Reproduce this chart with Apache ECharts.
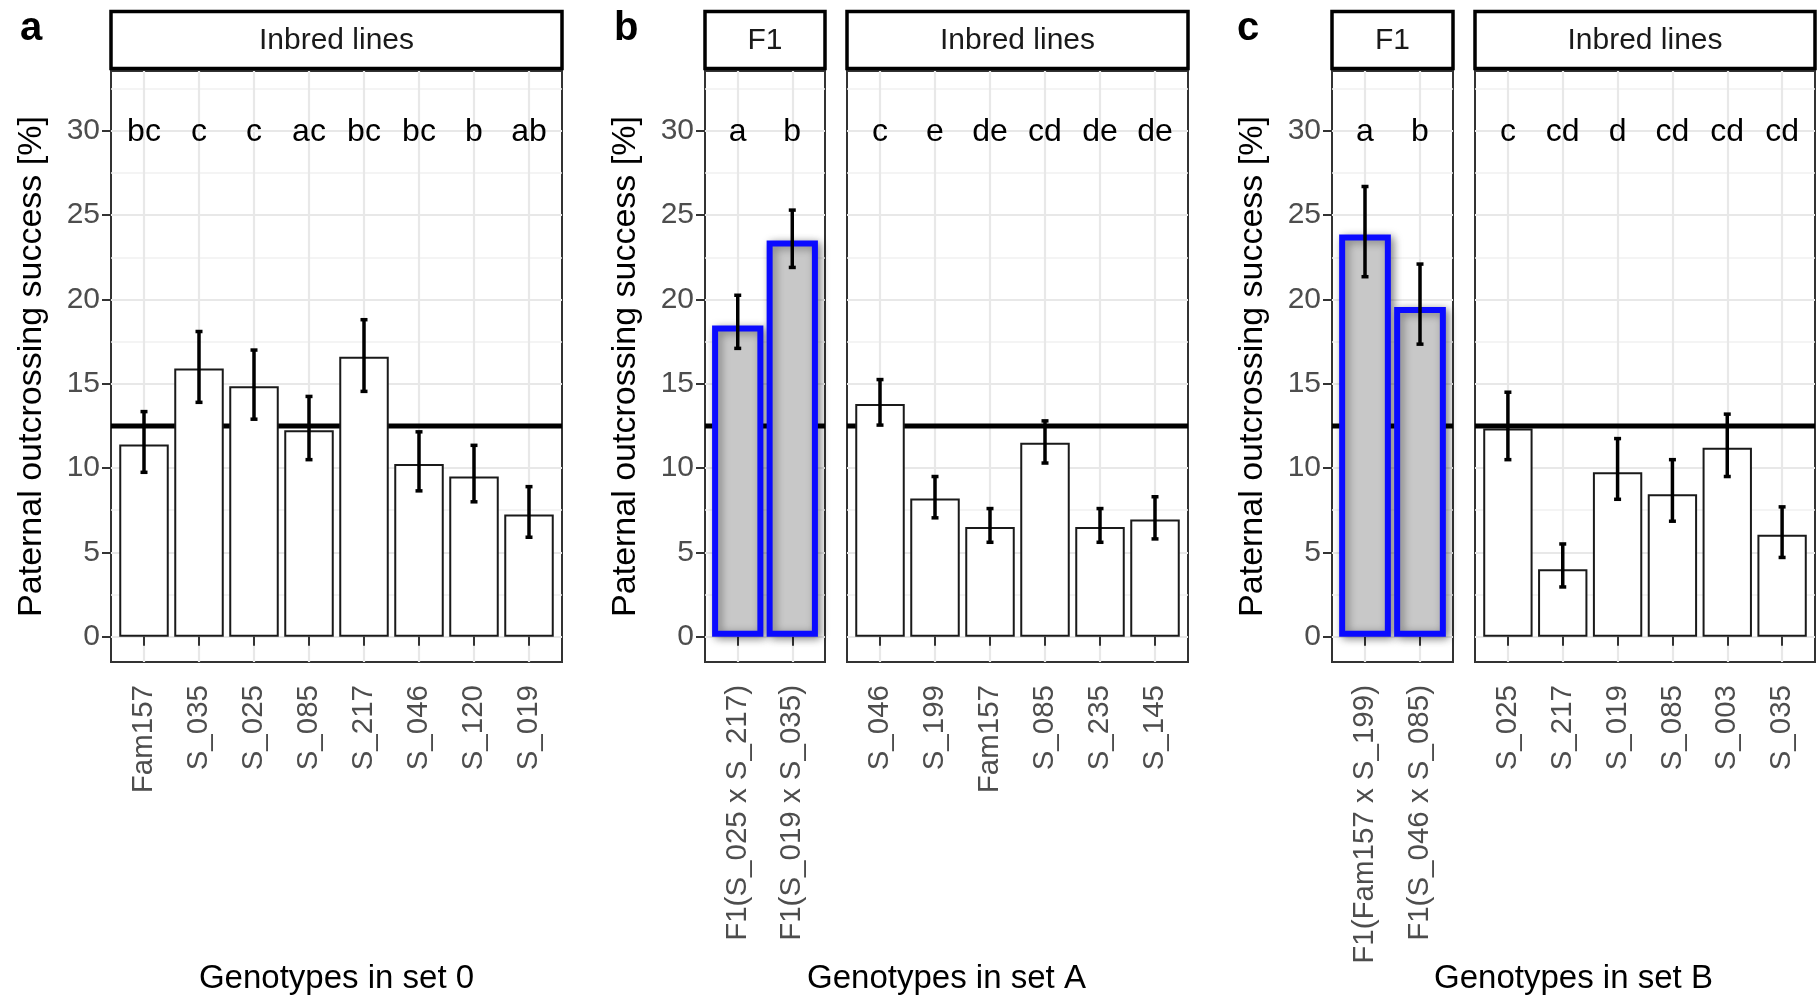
<!DOCTYPE html>
<html>
<head>
<meta charset="utf-8">
<script src="https://cdn.jsdelivr.net/npm/echarts@6/dist/echarts.min.js"></script>
<style>
  html, body { margin: 0; padding: 0; background: #ffffff; }
  #chart { width: 1818px; height: 1002px; }
</style>
</head>
<body>
<div id="chart"></div>
<script>
// ---- Set 0: inbred lines ----
const set0Inbred        = ['Fam157', 'S_035', 'S_025', 'S_085', 'S_217', 'S_046', 'S_120', 'S_019'];
const set0InbredMean    = [11.4, 15.9, 14.85, 12.25, 16.6, 10.25, 9.5, 7.25];
const set0InbredLow     = [9.75, 13.9, 12.9, 10.5, 14.55, 8.65, 8.0, 5.9];
const set0InbredHigh    = [13.35, 18.1, 17.0, 14.25, 18.8, 12.15, 11.35, 8.9];
const set0InbredLetters = ['bc', 'c', 'c', 'ac', 'bc', 'bc', 'b', 'ab'];

// ---- Set A ----
const setAF1            = ['F1(S_025 x S_217)', 'F1(S_019 x S_035)'];
const setAF1Mean        = [18.45, 23.5];
const setAF1Low         = [17.1, 21.9];
const setAF1High        = [20.25, 25.3];
const setAF1Letters     = ['a', 'b'];

const setAInbred        = ['S_046', 'S_199', 'Fam157', 'S_085', 'S_235', 'S_145'];
const setAInbredMean    = [13.8, 8.2, 6.5, 11.5, 6.5, 6.95];
const setAInbredLow     = [12.55, 7.05, 5.6, 10.3, 5.6, 5.8];
const setAInbredHigh    = [15.25, 9.5, 7.6, 12.8, 7.6, 8.3];
const setAInbredLetters = ['c', 'e', 'de', 'cd', 'de', 'de'];

// ---- Set B ----
const setBF1            = ['F1(Fam157 x S_199)', 'F1(S_046 x S_085)'];
const setBF1Mean        = [23.85, 19.55];
const setBF1Low         = [21.35, 17.35];
const setBF1High        = [26.7, 22.1];
const setBF1Letters     = ['a', 'b'];

const setBInbred        = ['S_025', 'S_217', 'S_019', 'S_085', 'S_003', 'S_035'];
const setBInbredMean    = [12.35, 4.0, 9.75, 8.45, 11.2, 6.05];
const setBInbredLow     = [10.5, 2.95, 8.15, 6.85, 9.5, 4.7];
const setBInbredHigh    = [14.5, 5.5, 11.75, 10.5, 13.2, 7.7];
const setBInbredLetters = ['c', 'cd', 'd', 'cd', 'cd', 'cd'];

// ---- Axis ticks and reference values ----
const yTicks      = [0, 5, 10, 15, 20, 25, 30];
const yMinorTicks = [2.5, 7.5, 12.5, 17.5, 22.5, 27.5, 32.5];
const EXPECTED_SUCCESS = 12.5;   // horizontal reference line
const LETTER_Y = 30;             // height of the significance letters
const Y_MIN = -1.5, Y_MAX = 33.55;

const yTitle = 'Paternal outcrossing success [%]';
const setTitles = ['Genotypes in set 0', 'Genotypes in set A', 'Genotypes in set B'];
const panelTags = ['a', 'b', 'c'];

// ---- Layout of the facets (pixels) ----
const PANEL_TOP = 71, PANEL_H = 591;
const STRIP_TOP = 11.5, STRIP_H = 57;
const FONT = '"Liberation Sans", Arial, Helvetica, sans-serif';

const facets = [
  { left: 111,  width: 451, kind: 'inbred', strip: 'Inbred lines', yLabels: true,
    cats: set0Inbred, mean: set0InbredMean, low: set0InbredLow, high: set0InbredHigh, letters: set0InbredLetters },
  { left: 705,  width: 120, kind: 'f1', strip: 'F1', yLabels: true,
    cats: setAF1, mean: setAF1Mean, low: setAF1Low, high: setAF1High, letters: setAF1Letters },
  { left: 847,  width: 341, kind: 'inbred', strip: 'Inbred lines', yLabels: false,
    cats: setAInbred, mean: setAInbredMean, low: setAInbredLow, high: setAInbredHigh, letters: setAInbredLetters },
  { left: 1332, width: 121, kind: 'f1', strip: 'F1', yLabels: true,
    cats: setBF1, mean: setBF1Mean, low: setBF1Low, high: setBF1High, letters: setBF1Letters },
  { left: 1475, width: 340, kind: 'inbred', strip: 'Inbred lines', yLabels: false,
    cats: setBInbred, mean: setBInbredMean, low: setBInbredLow, high: setBInbredHigh, letters: setBInbredLetters }
];

// x-ranges for the three figure parts (used to centre the axis titles)
const parts = [
  { from: 111, to: 562,  tagX: 20 },
  { from: 705, to: 1188, tagX: 614 },
  { from: 1332, to: 1815, tagX: 1237 }
];

const grid = [], xAxis = [], yAxis = [], series = [], graphic = [];

facets.forEach(function (f, gi) {
  const n = f.cats.length;
  const xMin = 0.4, xMax = n + 0.6;
  const positions = f.cats.map(function (_, i) { return i + 1; });

  grid.push({
    left: f.left, top: PANEL_TOP, width: f.width, height: PANEL_H,
    show: true, borderColor: '#333333', borderWidth: 2, backgroundColor: '#ffffff'
  });

  xAxis.push({
    type: 'value', gridIndex: gi, min: xMin, max: xMax,
    axisLine: { show: false },
    axisTick: { show: true, length: 9, customValues: positions,
                lineStyle: { color: '#333333', width: 2 } },
    axisLabel: {
      customValues: positions, rotate: 90, margin: 23,
      color: '#4d4d4d', fontSize: 29.5, fontFamily: FONT,
      formatter: function (v) { return f.cats[Math.round(v) - 1] || ''; }
    },
    splitLine: { show: true, lineStyle: { color: '#e8e8e8', width: 2.2 } }
  });

  // main y axis: ticks, labels, major grid
  yAxis.push({
    type: 'value', gridIndex: gi, min: Y_MIN, max: Y_MAX,
    name: f.yLabels ? yTitle : '',
    nameLocation: 'middle', nameRotate: 90, nameGap: 62,
    nameTextStyle: { color: '#000000', fontSize: 34, fontFamily: FONT },
    axisLine: { show: false },
    axisTick: { show: f.yLabels, length: 9, customValues: yTicks,
                lineStyle: { color: '#333333', width: 2 } },
    axisLabel: { show: f.yLabels, customValues: yTicks, margin: 11,
                 color: '#4d4d4d', fontSize: 30, fontFamily: FONT },
    splitLine: { show: true, lineStyle: { color: '#e8e8e8', width: 2.2 } }
  });
  const mainY = yAxis.length - 1;

  // second y axis only for the minor grid lines
  yAxis.push({
    type: 'value', gridIndex: gi, min: Y_MIN, max: Y_MAX, position: 'left',
    axisLine: { show: false },
    axisTick: { show: false, customValues: yMinorTicks },
    axisLabel: { show: false, customValues: yMinorTicks },
    splitLine: { show: true, lineStyle: { color: '#f0f0f0', width: 1.5 } }
  });

  // horizontal reference line, drawn under the bars
  series.push({
    type: 'line', xAxisIndex: gi, yAxisIndex: mainY, z: 1,
    data: [[xMin, EXPECTED_SUCCESS], [xMax, EXPECTED_SUCCESS]],
    showSymbol: false, symbol: 'none', silent: true, animation: false,
    lineStyle: { color: '#000000', width: 5 }
  });

  const isF1 = f.kind === 'f1';
  series.push({
    type: 'bar', xAxisIndex: gi, yAxisIndex: mainY, z: 2,
    barWidth: isF1 ? '94%' : '90%', animation: false,
    data: f.mean.map(function (v, i) { return [positions[i], v]; }),
    itemStyle: isF1
      ? { color: '#c8c8c8', borderColor: '#0a0aff', borderWidth: 6,
          shadowBlur: 9, shadowColor: 'rgba(0,0,0,0.4)', shadowOffsetX: 3, shadowOffsetY: 2 }
      : { color: '#ffffff', borderColor: '#1a1a1a', borderWidth: 2 }
  });

  // error bars
  series.push({
    type: 'custom', xAxisIndex: gi, yAxisIndex: mainY, z: 3, animation: false,
    data: f.low.map(function (lo, i) { return [positions[i], lo, f.high[i]]; }),
    encode: { x: 0, y: [1, 2] },
    renderItem: function (params, api) {
      const x = api.value(0);
      const lo = api.coord([x, api.value(1)]);
      const hi = api.coord([x, api.value(2)]);
      const cap = 3.5;
      const st = { stroke: '#000000', lineWidth: 3.5 };
      return {
        type: 'group',
        children: [
          { type: 'line', shape: { x1: lo[0], y1: lo[1], x2: hi[0], y2: hi[1] }, style: st },
          { type: 'line', shape: { x1: lo[0] - cap, y1: lo[1], x2: lo[0] + cap, y2: lo[1] }, style: st },
          { type: 'line', shape: { x1: hi[0] - cap, y1: hi[1], x2: hi[0] + cap, y2: hi[1] }, style: st }
        ]
      };
    }
  });

  // significance letters
  series.push({
    type: 'custom', xAxisIndex: gi, yAxisIndex: mainY, z: 4, animation: false,
    data: positions.map(function (p) { return [p, LETTER_Y]; }),
    encode: { x: 0, y: 1 },
    renderItem: function (params, api) {
      const pt = api.coord([api.value(0), api.value(1)]);
      return {
        type: 'text',
        style: {
          x: pt[0], y: pt[1] + 1, text: f.letters[params.dataIndex],
          fill: '#000000', font: '32px ' + FONT,
          textAlign: 'center', textVerticalAlign: 'middle'
        }
      };
    }
  });

  // facet strip
  graphic.push({
    type: 'rect', z: 10,
    shape: { x: f.left, y: STRIP_TOP, width: f.width, height: STRIP_H },
    style: { fill: '#ffffff', stroke: '#000000', lineWidth: 3.5 }
  });
  graphic.push({
    type: 'text', z: 11,
    style: { x: f.left + f.width / 2, y: STRIP_TOP + STRIP_H / 2 + 1, text: f.strip,
             fill: '#1a1a1a', font: '30px ' + FONT, textAlign: 'center', textVerticalAlign: 'middle' }
  });
});

parts.forEach(function (p, i) {
  graphic.push({
    type: 'text', z: 11,
    style: { x: (p.from + p.to) / 2, y: 979, text: setTitles[i], fill: '#000000',
             font: '33px ' + FONT, textAlign: 'center', textVerticalAlign: 'middle' }
  });
  graphic.push({
    type: 'text', z: 11,
    style: { x: p.tagX, y: 29, text: panelTags[i], fill: '#000000',
             font: 'bold 40px ' + FONT, textAlign: 'left', textVerticalAlign: 'middle' }
  });
});

const chart = echarts.init(document.getElementById('chart'), null, { renderer: 'canvas' });
chart.setOption({
  backgroundColor: '#ffffff',
  animation: false,
  grid: grid, xAxis: xAxis, yAxis: yAxis, series: series, graphic: graphic
});
</script>
</body>
</html>
